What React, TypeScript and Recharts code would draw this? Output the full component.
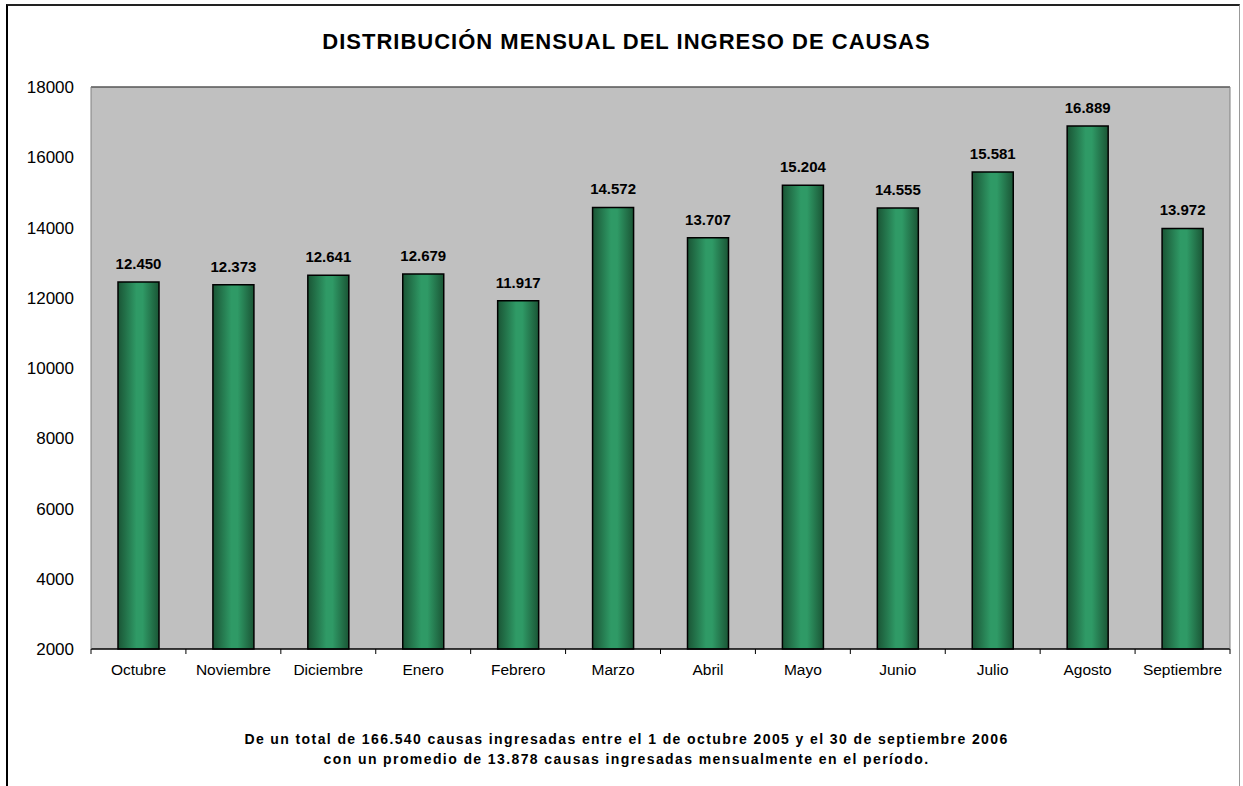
import React from "react";
import {
  BarChart,
  Bar,
  XAxis,
  YAxis,
  CartesianGrid,
  LabelList,
  ReferenceLine,
} from "recharts";

const months = [
  "Octubre",
  "Noviembre",
  "Diciembre",
  "Enero",
  "Febrero",
  "Marzo",
  "Abril",
  "Mayo",
  "Junio",
  "Julio",
  "Agosto",
  "Septiembre",
];
const causas = [12450, 12373, 12641, 12679, 11917, 14572, 13707, 15204, 14555, 15581, 16889, 13972];
const yTicks = [2000, 4000, 6000, 8000, 10000, 12000, 14000, 16000, 18000];

const data = months.map((mes, i) => ({ mes, causas: causas[i] }));

const W = 1243;
const H = 786;
const X_H = 30;
const MARGIN = { top: 87, right: 12, bottom: 137 - X_H, left: 31 };
const Y_W = 60;
const PLOT_W = W - MARGIN.left - MARGIN.right - Y_W - 1;
const BAND = PLOT_W / months.length;
const FONT = "'Liberation Sans', Arial, sans-serif";

// dots as thousands separator, like the source sheet
const fmt = (v: unknown) => String(v).replace(/\B(?=(\d{3})+(?!\d))/g, ".");

function MonthTick(props: any) {
  const { x, y, payload, index } = props;
  const half = BAND / 2;
  return (
    <g>
      <line x1={x - half} x2={x - half} y1={y} y2={y + 5} stroke="#000" />
      {index === months.length - 1 && (
        <line x1={x + half} x2={x + half} y1={y} y2={y + 5} stroke="#000" />
      )}
      <text
        x={x}
        y={y + 15}
        dy="0.71em"
        textAnchor="middle"
        fontSize={15.5}
        fontFamily={FONT}
        fill="#000"
      >
        {payload.value}
      </text>
    </g>
  );
}

export default function App() {
  return (
    <div style={{ position: "absolute", left: 0, top: 0, width: W, height: H, overflow: "hidden", background: "#fff" }}>
      <div
        style={{
          position: "absolute",
          left: 6,
          top: 4,
          width: 1234,
          height: 820,
          borderLeft: "2px solid #000",
          borderTop: "2px solid #222",
          borderRight: "1px solid #999",
          boxSizing: "border-box",
        }}
      />
      <div
        style={{
          position: "absolute",
          left: 0,
          width: W,
          top: 31,
          textAlign: "center",
          fontFamily: FONT,
          fontWeight: "bold",
          fontSize: 22,
          letterSpacing: 1,
          lineHeight: "22px",
          paddingLeft: 10,
          boxSizing: "border-box",
        }}
      >
        DISTRIBUCIÓN MENSUAL DEL INGRESO DE CAUSAS
      </div>
      <BarChart width={W} height={H} data={data} margin={MARGIN} style={{ position: "absolute", left: 0, top: 0 }}>
        <defs>
          <linearGradient id="barGrad" x1="0" y1="0" x2="1" y2="0">
            <stop offset="0%" stopColor="#1a5535" />
            <stop offset="45%" stopColor="#2f9a66" />
            <stop offset="60%" stopColor="#2f9a66" />
            <stop offset="100%" stopColor="#1a5535" />
          </linearGradient>
        </defs>
        <CartesianGrid vertical={false} stroke="#000" fill="#c0c0c0" fillOpacity={1} />
        <XAxis
          dataKey="mes"
          height={X_H}
          axisLine={{ stroke: "#000" }}
          tickLine={false}
          tickSize={0}
          tickMargin={0}
          interval={0}
          tick={<MonthTick />}
        />
        <YAxis
          yAxisId="left"
          width={Y_W}
          domain={[2000, 18000]}
          ticks={yTicks}
          interval={0}
          axisLine={{ stroke: "#808080" }}
          tickLine={false}
          tickSize={0}
          tickMargin={17}
          tick={{ fontSize: 17, fill: "#000", fontFamily: FONT }}
        />
        <YAxis
          yAxisId="right"
          orientation="right"
          width={1}
          domain={[2000, 18000]}
          ticks={yTicks}
          axisLine={{ stroke: "#808080" }}
          tickLine={false}
          tick={false}
        />
        <ReferenceLine yAxisId="left" y={18000} stroke="#808080" />
        <Bar
          yAxisId="left"
          dataKey="causas"
          barSize={41}
          fill="url(#barGrad)"
          stroke="#000"
          strokeWidth={1.5}
          isAnimationActive={false}
        >
          <LabelList
            dataKey="causas"
            position="top"
            offset={13}
            formatter={fmt}
            fontSize={15}
            fontWeight="bold"
            fontFamily={FONT}
            fill="#000"
          />
        </Bar>
      </BarChart>
      <div
        style={{
          position: "absolute",
          left: 0,
          width: W,
          top: 729,
          textAlign: "center",
          fontFamily: FONT,
          fontWeight: "bold",
          fontSize: 14,
          letterSpacing: 1.4,
          lineHeight: "20px",
          paddingLeft: 10,
          boxSizing: "border-box",
        }}
      >
        De un total de 166.540 causas ingresadas entre el 1 de octubre 2005 y el 30 de septiembre 2006
        <br />
        con un promedio de 13.878 causas ingresadas mensualmente en el período.
      </div>
    </div>
  );
}
